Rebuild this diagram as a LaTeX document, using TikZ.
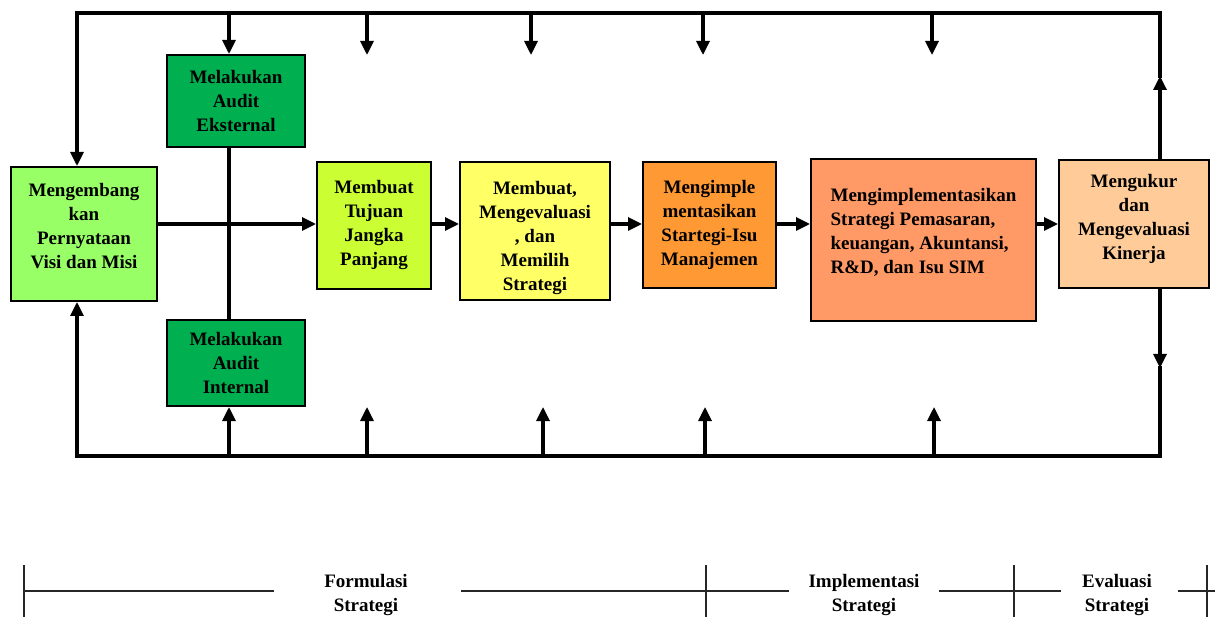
\documentclass[tikz,border=0pt]{standalone}
\usepackage{fontspec}
\setmainfont{Liberation Serif}
\usetikzlibrary{arrows.meta}
\definecolor{cvisi}{HTML}{99FF66}
\definecolor{caudit}{HTML}{00B050}
\definecolor{ctujuan}{HTML}{CCFF33}
\definecolor{cmembuat}{HTML}{FFFF66}
\definecolor{cimple}{HTML}{FF9933}
\definecolor{cbig}{HTML}{FF9966}
\definecolor{cukur}{HTML}{FFCC99}
\tikzset{
  box/.style={draw=black, line width=2pt, inner sep=2pt, align=center,
    font=\fontsize{19}{24}\selectfont\bfseries},
  conn/.style={line width=3.2pt, line cap=rect},
  arr/.style={line width=3.2pt, -{Triangle[length=14pt,width=13pt]}},
  tl/.style={line width=1.1pt, draw=black!85},
  lbl/.style={align=center, font=\fontsize{19}{24}\selectfont\bfseries}
}
\begin{document}
\begin{tikzpicture}[x=1pt,y=-1pt]
\useasboundingbox (0,0) rectangle (1215,617);
% boxes
\node[box, fill=cvisi, minimum width=146pt, minimum height=134pt] (vm) at (84,234) {Mengembang\\kan\\Pernyataan\\Visi dan Misi\\[-8pt]};
\node[box, fill=caudit, minimum width=138pt, minimum height=92pt] (ae) at (236,101) {Melakukan\\Audit\\Eksternal};
\node[box, fill=caudit, minimum width=138pt, minimum height=86pt] (ai) at (236,363) {Melakukan\\Audit\\Internal};
\node[box, fill=ctujuan, minimum width=114pt, minimum height=127pt] (tj) at (374,225.5) {Membuat\\Tujuan\\Jangka\\Panjang\\[-18pt]};
\node[box, fill=cmembuat, minimum width=150pt, minimum height=138pt] (mb) at (535,231) {Membuat,\\Mengevaluasi\\, dan\\Memilih\\Strategi\\[-34pt]};
\node[box, fill=cimple, minimum width=133pt, minimum height=126pt] (mi) at (709.5,225) {Mengimple\\mentasikan\\Startegi-Isu\\Manajemen};
\node[box, fill=cbig, minimum width=225pt, minimum height=162pt, align=left] (bg) at (923.5,240) {Mengimplementasikan\\Strategi Pemasaran,\\keuangan, Akuntansi,\\R\&D, dan Isu SIM\\[-6pt]};
\node[box, fill=cukur, minimum width=150pt, minimum height=128pt] (mk) at (1134,224) {Mengukur\\dan\\Mengevaluasi\\Kinerja\\[-10pt]};
% frame coordinates
\coordinate (TL) at (77,13);
\coordinate (TR) at (1160,13);
\coordinate (BL) at (77,456);
\coordinate (BR) at (1160,456);
\coordinate (row) at (0,224);
\coordinate (ax) at (229,0);
\coordinate (ru) at (1160,76);
\coordinate (rd) at (1160,368);
% top free arrow ends
\coordinate (t1) at (367,55);
\coordinate (t2) at (531,55);
\coordinate (t3) at (703,55);
\coordinate (t4) at (932,55);
% bottom free arrow ends
\coordinate (b1) at (367,407);
\coordinate (b2) at (543,407);
\coordinate (b3) at (705,407);
\coordinate (b4) at (934,407);
% feedback loop
\draw[arr] (mk.north -| TR) -- (ru);
\draw[conn] (ru) -- (TR) -- (TL);
\draw[arr] (TL) -- (vm.north -| TL);
\draw[arr] (mk.south -| BR) -- (rd);
\draw[conn] (rd) -- (BR) -- (BL);
\draw[arr] (BL) -- (vm.south -| BL);
% audit links
\draw[arr] (TL -| ax) -- (ae.north -| ax);
\draw[arr] (BL -| ax) -- (ai.south -| ax);
\draw[conn, line cap=butt] (ae.south -| ax) -- (ai.north -| ax);
% top / bottom arrows
\foreach \c in {t1,t2,t3,t4} { \draw[arr] (TL -| \c) -- (\c); }
\foreach \c in {b1,b2,b3,b4} { \draw[arr] (BL -| \c) -- (\c); }
% main flow
\draw[arr] (vm.east |- row) -- (tj.west |- row);
\draw[arr] (tj.east |- row) -- (mb.west |- row);
\draw[arr] (mb.east |- row) -- (mi.west |- row);
\draw[arr] (mi.east |- row) -- (bg.west |- row);
\draw[arr] (bg.east |- row) -- (mk.west |- row);
% timeline
\coordinate (k1) at (24,565);
\coordinate (k2) at (706,565);
\coordinate (k3) at (1014,565);
\coordinate (k4) at (1207,565);
\node[lbl] (fs) at (366,595) {Formulasi\\Strategi};
\node[lbl] (is) at (864,595) {Implementasi\\Strategi};
\node[lbl] (es) at (1117,595) {Evaluasi\\Strategi};
\draw[tl] (24,591) -- (274,591);
\draw[tl] (461,591) -- (789,591);
\draw[tl] (939,591) -- (1061,591);
\draw[tl] (1178,591) -- (1215,591);
\foreach \k in {k1,k2,k3,k4} { \draw[tl] (\k) -- ++(0,60); }
\end{tikzpicture}
\end{document}
